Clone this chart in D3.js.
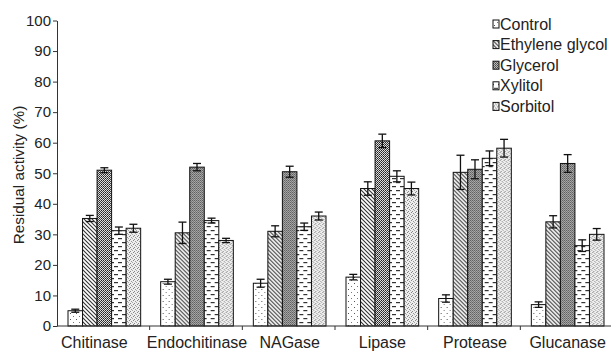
<!DOCTYPE html>
<html>
<head>
<meta charset="utf-8">
<script src="https://cdn.jsdelivr.net/npm/d3@7"></script>
<style>
  body { margin: 0; background: #fff; }
  text { font-family: "Liberation Sans", Arial, sans-serif; fill: #222; }
</style>
</head>
<body>
<svg id="chart" width="611" height="351"></svg>
<script>
var enzymes = ["Chitinase", "Endochitinase", "NAGase", "Lipase", "Protease", "Glucanase"]
var treatments = ["Control", "Ethylene glycol", "Glycerol", "Xylitol", "Sorbitol"]
// residual activity per treatment, in enzyme order
var control  = [5, 14.5, 14, 16, 9, 7]
var ethylene = [35.2, 30.5, 31, 45, 50.3, 34.1]
var glycerol = [51, 52, 50.5, 60.6, 51.3, 53.2]
var xylitol  = [31.2, 34.5, 32.5, 49, 54.9, 26.3]
var sorbitol = [32, 28, 36, 45, 58.2, 30]
// error bars
var controlErr  = [0.5, 0.8, 1.3, 0.9, 1.2, 0.9]
var ethyleneErr = [1, 3.5, 1.8, 2.2, 5.6, 2]
var glycerolErr = [0.8, 1.2, 1.8, 2.2, 3.1, 2.9]
var xylitolErr  = [1.2, 0.8, 1.2, 1.8, 2.4, 1.9]
var sorbitolErr = [1.3, 0.7, 1.3, 2.1, 2.9, 1.9]
var yTicks = [0, 10, 20, 30, 40, 50, 60, 70, 80, 90, 100]

var series = [control, ethylene, glycerol, xylitol, sorbitol]
var errs = [controlErr, ethyleneErr, glycerolErr, xylitolErr, sorbitolErr]

var svg = d3.select("#chart")
var defs = svg.append("defs")

// fill patterns, one per treatment
function pat(id, w, h, bg) {
    var p = defs.append("pattern").attr("id", id)
        .attr("patternUnits", "userSpaceOnUse")
        .attr("width", w).attr("height", h)
    p.append("rect").attr("width", w).attr("height", h).attr("fill", bg)
    return p
}
var p0 = pat("p0", 6, 6, "#fff")
p0.append("rect").attr("x", 1).attr("y", 1).attr("width", 1).attr("height", 1).attr("fill", "#555")
p0.append("rect").attr("x", 4).attr("y", 4).attr("width", 1).attr("height", 1).attr("fill", "#777")

var p1 = pat("p1", 4, 4, "#fff")
p1.append("path").attr("d", "M-1,-1 L5,5 M-1,3 L1,5 M3,-1 L5,1")
    .attr("stroke", "#333").attr("stroke-width", 1.1)

var p2 = pat("p2", 2, 2, "#ddd")
p2.append("rect").attr("width", 1).attr("height", 1).attr("fill", "#222")
p2.append("rect").attr("x", 1).attr("y", 1).attr("width", 1).attr("height", 1).attr("fill", "#444")

var p3 = pat("p3", 8, 8, "#fff")
p3.append("rect").attr("x", 1).attr("y", 2).attr("width", 4).attr("height", 1.2).attr("fill", "#333")
p3.append("rect").attr("x", 5).attr("y", 6).attr("width", 4).attr("height", 1.2).attr("fill", "#333")
p3.append("rect").attr("x", -3).attr("y", 6).attr("width", 4).attr("height", 1.2).attr("fill", "#333")

var p4 = pat("p4", 4, 4, "#eee")
p4.append("rect").attr("x", 0).attr("y", 0).attr("width", 1).attr("height", 1).attr("fill", "#888")
p4.append("rect").attr("x", 2).attr("y", 1).attr("width", 1).attr("height", 1).attr("fill", "#999")
p4.append("rect").attr("x", 1).attr("y", 3).attr("width", 1).attr("height", 1).attr("fill", "#888")
p4.append("rect").attr("x", 3).attr("y", 2).attr("width", 1).attr("height", 1).attr("fill", "#aaa")

var fills = ["url(#p0)", "url(#p1)", "url(#p2)", "url(#p3)", "url(#p4)"]

var mLeft = 57, mRight = 613, mTop = 20.5, mBottom = 326

var x0 = d3.scaleBand().domain(enzymes).range([mLeft, mRight]).paddingInner(0).paddingOuter(0)
var x1 = d3.scaleBand().domain(d3.range(5)).range([11, x0.bandwidth() - 9])
var y = d3.scaleLinear().domain([0, 100]).range([mBottom, mTop])

// y axis
svg.append("g")
    .attr("transform", "translate(" + mLeft + ",0)")
    .call(d3.axisLeft(y).tickValues(yTicks).tickSize(4).tickPadding(2).tickSizeOuter(0))
    .call(function(g) {
        g.selectAll("text").style("font-size", "15px").style("fill", "#222")
            .style("font-family", "'Liberation Sans', Arial, sans-serif")
        g.selectAll("line, path").attr("stroke", "#333")
    })

svg.append("text")
    .attr("transform", "translate(24,175) rotate(-90)")
    .attr("text-anchor", "middle")
    .style("font-size", "15.3px")
    .text("Residual activity (%)")

// bars
var groups = svg.append("g").selectAll("g")
    .data(enzymes)
    .enter().append("g")
    .attr("transform", function(d) { return "translate(" + x0(d) + ",0)" })

groups.each(function(enz, i) {
    var g = d3.select(this)
    series.forEach(function(s, k) {
        var bx = x1(k), bw = x1.bandwidth()
        g.append("rect")
            .attr("x", bx).attr("y", y(s[i]))
            .attr("width", bw).attr("height", y(0) - y(s[i]))
            .attr("fill", fills[k])
            .attr("stroke", "#111").attr("stroke-width", 1)
        var cx = bx + bw / 2, e = errs[k][i]
        var eb = g.append("g").attr("stroke", "#111").attr("stroke-width", 1.3)
        eb.append("line").attr("x1", cx).attr("x2", cx).attr("y1", y(s[i] + e)).attr("y2", y(s[i] - e))
        eb.append("line").attr("x1", cx - 4).attr("x2", cx + 4).attr("y1", y(s[i] + e)).attr("y2", y(s[i] + e))
        eb.append("line").attr("x1", cx - 4).attr("x2", cx + 4).attr("y1", y(s[i] - e)).attr("y2", y(s[i] - e))
    })
})

// x axis
var xa = svg.append("g").attr("transform", "translate(0," + mBottom + ")")
xa.append("line").attr("x1", mLeft).attr("x2", mRight).attr("stroke", "#333")
xa.selectAll(".tk").data(enzymes.slice(1))
    .enter().append("line")
    .attr("x1", function(d) { return x0(d) }).attr("x2", function(d) { return x0(d) })
    .attr("y1", 0).attr("y2", 4).attr("stroke", "#333")
xa.selectAll("text").data(enzymes)
    .enter().append("text")
    .attr("x", function(d, i) { return x0(d) + x0.bandwidth() / 2 + (i == 0 ? -9 : 1) })
    .attr("y", 22)
    .attr("text-anchor", "middle")
    .style("font-size", "16px")
    .text(function(d) { return d })

// legend
var lg = svg.append("g").attr("transform", "translate(493,24)")
var items = lg.selectAll("g").data(treatments)
    .enter().append("g")
    .attr("transform", function(d, i) { return "translate(0," + i * 20.6 + ")" })
items.append("rect")
    .attr("x", 0).attr("y", -4).attr("width", 6).attr("height", 8)
    .attr("fill", function(d, i) { return fills[i] })
    .attr("stroke", "#111").attr("stroke-width", 1)
items.append("text")
    .attr("x", 7).attr("y", 5.5)
    .style("font-size", "16px")
    .text(function(d) { return d })
</script>
</body>
</html>
